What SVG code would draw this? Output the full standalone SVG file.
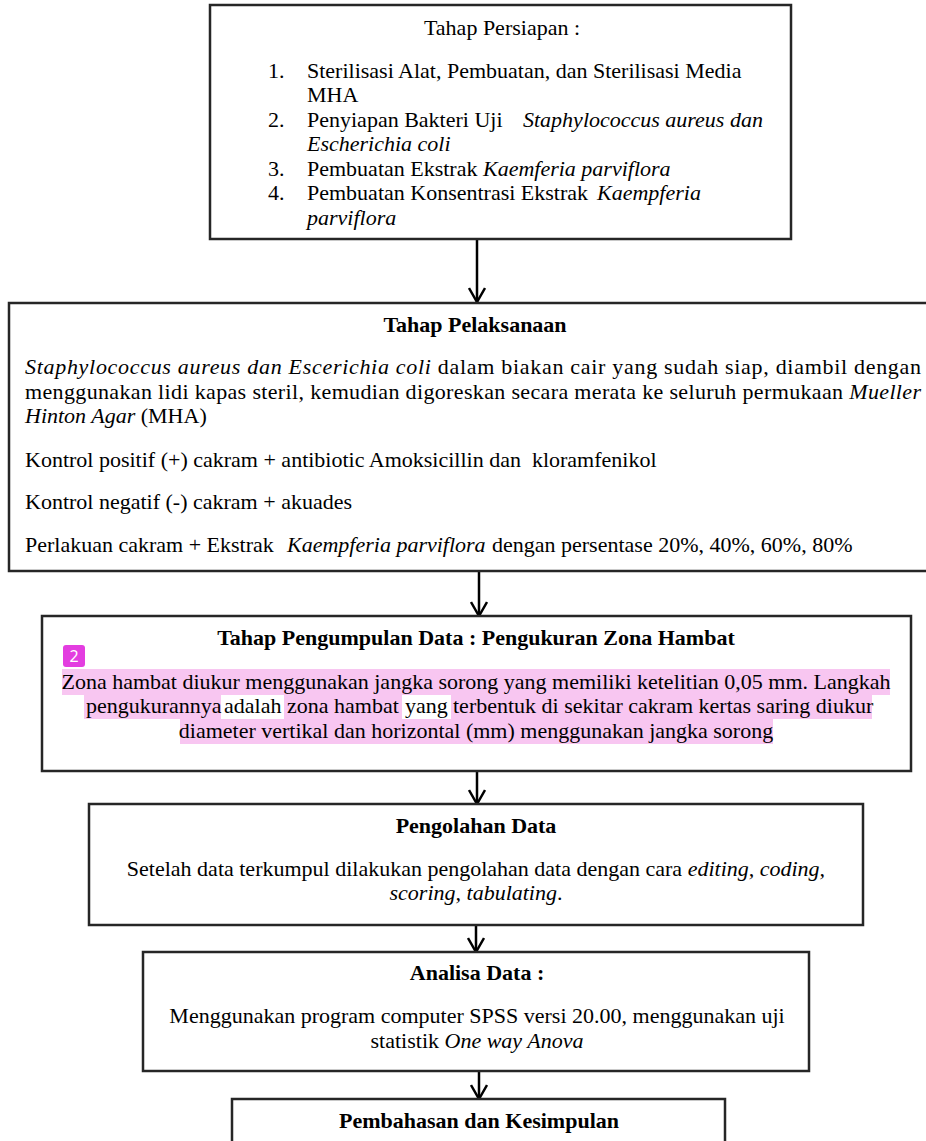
<svg xmlns="http://www.w3.org/2000/svg" width="926" height="1141" viewBox="0 0 926 1141">
<style>
.box{fill:#fff;stroke:#262626;stroke-width:2.5}
.t{font-family:"Liberation Serif","Times New Roman",serif;font-size:22px;fill:#000}
.b{font-weight:bold}
.i{font-style:italic}
.c{text-anchor:middle}
.hl{fill:#f8c6f1}
.arr{stroke:#000;stroke-width:2.5;fill:none;marker-end:url(#ah)}
</style>
<defs>
<marker id="ah" markerUnits="userSpaceOnUse" viewBox="0 0 16 18" refX="15" refY="9" markerWidth="16" markerHeight="18" orient="auto">
<path d="M1,1 L15,9 L1,17" fill="none" stroke="#000" stroke-width="2.5"/>
</marker>
</defs>
<rect width="926" height="1141" fill="#fff"/>

<g id="connectors">
<line class="arr" x1="477" y1="239" x2="477" y2="302"/>
<line class="arr" x1="479" y1="571" x2="479" y2="616"/>
<line class="arr" x1="477" y1="771" x2="477" y2="804"/>
<line class="arr" x1="476" y1="925" x2="476" y2="952"/>
<line class="arr" x1="479" y1="1071" x2="479" y2="1099"/>
</g>

<g id="persiapan">
<rect class="box" x="210" y="5" width="581" height="234"/>
<text class="t c" x="502" y="35">Tahap Persiapan :</text>
<text class="t" x="268" y="78">1.</text>
<text class="t" x="307" y="78">Sterilisasi Alat, Pembuatan, dan Sterilisasi Media</text>
<text class="t" x="307" y="102">MHA</text>
<text class="t" x="268" y="127">2.</text>
<text class="t" x="307" y="127">Penyiapan Bakteri Uji</text>
<text class="t i" x="523" y="127">Staphylococcus aureus dan</text>
<text class="t i" x="307" y="151">Escherichia coli</text>
<text class="t" x="268" y="176">3.</text>
<text class="t" x="307" y="176">Pembuatan Ekstrak <tspan class="i">Kaemferia parviflora</tspan></text>
<text class="t" x="268" y="200">4.</text>
<text class="t" x="307" y="200">Pembuatan Konsentrasi Ekstrak</text>
<text class="t i" x="597" y="200">Kaempferia</text>
<text class="t i" x="307" y="225">parviflora</text>
</g>

<g id="pelaksanaan">
<rect class="box" x="9" y="303" width="930" height="268"/>
<text class="t b c" x="475" y="332">Tahap Pelaksanaan</text>
<text class="t" x="25" y="374" textLength="896" lengthAdjust="spacing"><tspan class="i">Staphylococcus aureus dan Escerichia coli</tspan> dalam biakan cair yang sudah siap, diambil dengan</text>
<text class="t" x="25" y="399" textLength="896" lengthAdjust="spacing">menggunakan lidi kapas steril, kemudian digoreskan secara merata ke seluruh permukaan <tspan class="i">Mueller</tspan></text>
<text class="t" x="25" y="423"><tspan class="i">Hinton Agar</tspan> (MHA)</text>
<text class="t" x="25" y="467">Kontrol positif (+) cakram + antibiotic Amoksicillin dan&#160; kloramfenikol</text>
<text class="t" x="25" y="509">Kontrol negatif (-) cakram + akuades</text>
<text class="t" x="25" y="552">Perlakuan cakram + Ekstrak</text>
<text class="t i" x="287" y="552">Kaempferia parviflora</text>
<text class="t" x="492" y="552">dengan persentase 20%, 40%, 60%, 80%</text>
</g>

<g id="pengumpulan">
<rect class="box" x="42" y="616" width="869" height="155"/>
<text class="t b c" x="476" y="645">Tahap Pengumpulan Data : Pengukuran Zona Hambat</text>
<rect class="hl" x="62" y="669" width="828" height="26"/>
<rect class="hl" x="84" y="695" width="137" height="24"/>
<rect class="hl" x="284" y="695" width="118" height="24"/>
<rect class="hl" x="451" y="695" width="421" height="24"/>
<rect class="hl" x="180" y="719" width="593" height="25"/>
<rect x="63" y="645" width="22" height="22" rx="3" fill="#e33de0"/>
<text x="74" y="662" font-family="'Noto Sans','DejaVu Sans',sans-serif" font-size="16" fill="#fff" text-anchor="middle">2</text>
<text class="t c" x="476" y="689">Zona hambat diukur menggunakan jangka sorong yang memiliki ketelitian 0,05 mm. Langkah</text>
<text class="t" y="713"><tspan x="86">pengukurannya</tspan><tspan x="224">adalah</tspan><tspan x="287">zona hambat</tspan><tspan x="405">yang</tspan><tspan x="453">terbentuk di sekitar cakram kertas saring diukur</tspan></text>
<text class="t c" x="476" y="738">diameter vertikal dan horizontal (mm) menggunakan jangka sorong</text>
</g>

<g id="pengolahan">
<rect class="box" x="89" y="804" width="774" height="121"/>
<text class="t b c" x="476" y="833">Pengolahan Data</text>
<text class="t c" x="476" y="876">Setelah data terkumpul dilakukan pengolahan data dengan cara <tspan class="i">editing, coding,</tspan></text>
<text class="t c" x="476" y="900"><tspan class="i">scoring, tabulating</tspan>.</text>
</g>

<g id="analisa">
<rect class="box" x="143" y="952" width="666" height="119"/>
<text class="t b c" x="477" y="980">Analisa Data :</text>
<text class="t c" x="477" y="1023">Menggunakan program computer SPSS versi 20.00, menggunakan uji</text>
<text class="t c" x="477" y="1048">statistik <tspan class="i">One way Anova</tspan></text>
</g>

<g id="pembahasan">
<rect class="box" x="232" y="1099" width="493" height="60"/>
<text class="t b c" x="479" y="1128">Pembahasan dan Kesimpulan</text>
</g>
</svg>
